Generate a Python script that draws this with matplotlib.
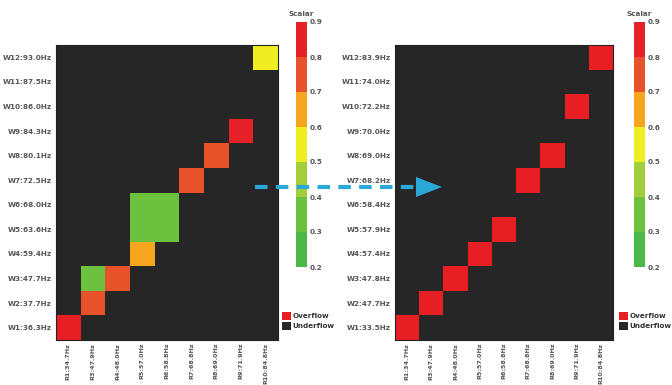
import numpy as np
import matplotlib
matplotlib.use("Agg")
from matplotlib import pyplot as plt
from matplotlib.colors import ListedColormap, BoundaryNorm
from matplotlib.patches import Patch, Polygon
from matplotlib.lines import Line2D

# column labels (same for both maps)
col_labels = ["R1:34.7Hz", "R3:47.9Hz", "R4:48.0Hz", "R5:57.0Hz", "R6:58.8Hz",
              "R7:68.8Hz", "R8:69.0Hz", "R9:71.9Hz", "R10:84.8Hz"]

left_rows = ["W1:36.3Hz", "W2:37.7Hz", "W3:47.7Hz", "W4:59.4Hz", "W5:63.6Hz", "W6:68.0Hz",
             "W7:72.5Hz", "W8:80.1Hz", "W9:84.3Hz", "W10:86.0Hz", "W11:87.5Hz", "W12:93.0Hz"]
right_rows = ["W1:33.5Hz", "W2:47.7Hz", "W3:47.8Hz", "W4:57.4Hz", "W5:57.9Hz", "W6:58.4Hz",
              "W7:68.2Hz", "W8:69.0Hz", "W9:70.0Hz", "W10:72.2Hz", "W11:74.0Hz", "W12:83.9Hz"]

# rows from W1 (bottom) to W12 (top); 0 = underflow, 1 = overflow
left_vals = [
    [1.0, 0, 0, 0, 0, 0, 0, 0, 0],
    [0, 0.75, 0, 0, 0, 0, 0, 0, 0],
    [0, 0.36, 0.75, 0, 0, 0, 0, 0, 0],
    [0, 0, 0, 0.65, 0, 0, 0, 0, 0],
    [0, 0, 0, 0.38, 0.38, 0, 0, 0, 0],
    [0, 0, 0, 0.38, 0.38, 0, 0, 0, 0],
    [0, 0, 0, 0, 0, 0.75, 0, 0, 0],
    [0, 0, 0, 0, 0, 0, 0.75, 0, 0],
    [0, 0, 0, 0, 0, 0, 0, 0.85, 0],
    [0, 0, 0, 0, 0, 0, 0, 0, 0],
    [0, 0, 0, 0, 0, 0, 0, 0, 0],
    [0, 0, 0, 0, 0, 0, 0, 0, 0.55],
]
right_vals = [
    [1.0, 0, 0, 0, 0, 0, 0, 0, 0],
    [0, 1.0, 0, 0, 0, 0, 0, 0, 0],
    [0, 0, 1.0, 0, 0, 0, 0, 0, 0],
    [0, 0, 0, 1.0, 0, 0, 0, 0, 0],
    [0, 0, 0, 0, 1.0, 0, 0, 0, 0],
    [0, 0, 0, 0, 0, 0, 0, 0, 0],
    [0, 0, 0, 0, 0, 1.0, 0, 0, 0],
    [0, 0, 0, 0, 0, 0, 1.0, 0, 0],
    [0, 0, 0, 0, 0, 0, 0, 0, 0],
    [0, 0, 0, 0, 0, 0, 0, 1.0, 0],
    [0, 0, 0, 0, 0, 0, 0, 0, 0],
    [0, 0, 0, 0, 0, 0, 0, 0, 1.0],
]

bounds = [0.2, 0.3, 0.4, 0.5, 0.6, 0.7, 0.8, 0.9]
band_colors = ["#4cb848", "#6cc23e", "#a3cd3b", "#eeee22", "#f7a51e", "#e8522a", "#e52228"]

cmap = ListedColormap(band_colors)
cmap.set_over("#e81e25")
cmap.set_under("#262626")
norm = BoundaryNorm(bounds, cmap.N)

label_color = "#555555"
fs = 5.2
fs_x = 4.6

fig = plt.figure(figsize=(6.72, 3.85), dpi=100)
fig.patch.set_facecolor("white")

panels = [
    (left_vals, left_rows, [56 / 672, 45 / 385, 222 / 672, 295 / 385], [296 / 672, 118 / 385, 11 / 672, 245 / 385], 282 / 672),
    (right_vals, right_rows, [395 / 672, 45 / 385, 218 / 672, 295 / 385], [634 / 672, 118 / 385, 11 / 672, 245 / 385], 619 / 672),
]

for vals, rows, rect, crect, lx in panels:
    ax = fig.add_axes(rect)
    data = np.array(vals)
    mesh = ax.pcolormesh(np.arange(len(col_labels) + 1), np.arange(len(rows) + 1), data,
                         cmap=cmap, norm=norm)
    ax.set_xticks(np.arange(len(col_labels)) + 0.5)
    ax.set_xticklabels(col_labels, rotation=90, fontsize=fs_x, color=label_color, fontweight="bold")
    ax.set_yticks(np.arange(len(rows)) + 0.5)
    ax.set_yticklabels(rows, fontsize=fs, color=label_color, fontweight="bold")
    ax.tick_params(length=0, pad=3)
    ax.tick_params(axis="x", pad=2)
    for s in ax.spines.values():
        s.set_color("#222222")
        s.set_linewidth(0.8)

    cax = fig.add_axes(crect)
    cb = fig.colorbar(mesh, cax=cax, ticks=bounds, extend="neither")
    cb.outline.set_visible(False)
    cax.tick_params(length=0, labelsize=fs, labelcolor=label_color, pad=2)
    for t in cax.get_yticklabels():
        t.set_fontweight("bold")
    cax.set_title("Scalar", fontsize=fs, color=label_color, fontweight="bold", pad=4)

    handles = [Patch(facecolor="#e81e25", edgecolor="none", label="Overflow"),
               Patch(facecolor="#262626", edgecolor="none", label="Underflow")]
    fig.legend(handles=handles, loc="upper left", bbox_to_anchor=(lx - 0.006, 1 - 308 / 385),
               frameon=False, handlelength=1.3, handleheight=1.5,
               handletextpad=0.2, labelspacing=0.15, borderpad=0,
               prop={"size": fs, "weight": "bold"}, labelcolor="#333333")

# dashed arrow between the maps
ya = 1 - 187 / 385
fig.add_artist(Line2D([255 / 672, 418 / 672], [ya, ya], transform=fig.transFigure,
                      color="#2aa8d8", lw=3, ls=(0, (3, 2)), zorder=10))
fig.add_artist(Polygon([[416 / 672, ya + 10 / 385], [442 / 672, ya], [416 / 672, ya - 10 / 385]],
                       closed=True, transform=fig.transFigure, facecolor="#2aa8d8",
                       edgecolor="none", zorder=10))

fig.savefig("out.png", dpi=100, facecolor="white")
